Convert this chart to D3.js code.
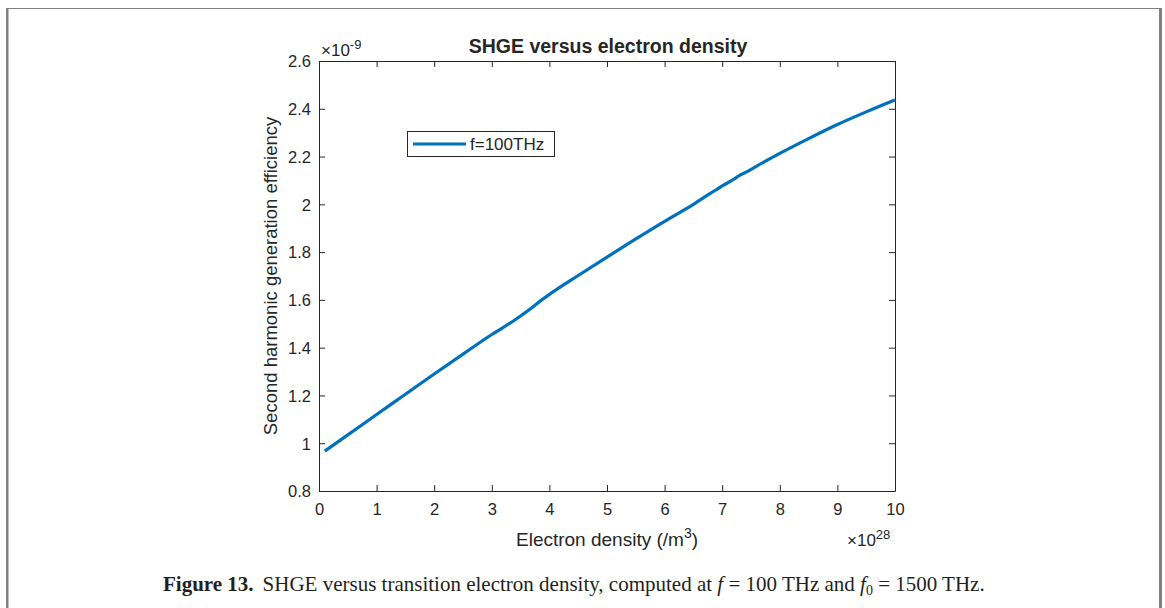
<!DOCTYPE html>
<html>
<head>
<meta charset="utf-8">
<script src="https://cdn.jsdelivr.net/npm/d3@7"></script>
<style>
  body { margin: 0; background: #fff; }
  svg text { font-family: "Liberation Sans", Arial, sans-serif; fill: #262626; }
  .caption text { font-family: "Liberation Serif", "Times New Roman", serif; fill: #231f20; }
</style>
</head>
<body>
<script>
var width = 1165;
var height = 608;

// electron density (x 1e28 /m^3) and SHG efficiency (x 1e-9)
var density = [0.1, 0.5, 1, 1.5, 2, 2.5, 3, 3.4, 3.7, 3.85, 4, 4.5, 5, 5.5, 6, 6.5, 6.8, 6.9, 7, 7.2, 7.3, 7.45, 7.6, 8, 8.5, 9, 9.5, 10];
var efficiency = [0.967, 1.035, 1.12, 1.205, 1.29, 1.373, 1.455, 1.516, 1.568, 1.597, 1.623, 1.702, 1.779, 1.855, 1.929, 2.0, 2.047, 2.062, 2.077, 2.105, 2.121, 2.139, 2.16, 2.213, 2.275, 2.334, 2.387, 2.437];

var xTicks = [0, 1, 2, 3, 4, 5, 6, 7, 8, 9, 10];
var yTicks = [0.8, 1, 1.2, 1.4, 1.6, 1.8, 2, 2.2, 2.4, 2.6];

var titleText = "SHGE versus electron density";
var legendLabel = "f=100THz";

var plot = { left: 319, top: 61, right: 895, bottom: 491 };

var svg = d3.select("body").append("svg")
    .attr("width", width)
    .attr("height", height);

// outer figure frame
svg.append("path")
    .attr("d", "M7,612 V8.5 H1160.5 V612")
    .attr("fill", "none")
    .attr("stroke", "#808080")
    .attr("stroke-width", 1);
svg.append("rect").attr("x", 6).attr("y", 8).attr("width", 2.5).attr("height", 604).attr("fill", "#808080");
svg.append("rect").attr("x", 1159).attr("y", 8).attr("width", 3).attr("height", 604).attr("fill", "#808080");

var x = d3.scaleLinear().domain([0, 10]).range([plot.left, plot.right]);
var y = d3.scaleLinear().domain([0.8, 2.6]).range([plot.bottom, plot.top]);

var tickLen = 6;
var fmt = function (d) { return d3.format("~g")(d); };

// bottom and left axes with inward ticks
var gx = svg.append("g")
    .attr("transform", "translate(0," + plot.bottom + ")")
    .call(d3.axisBottom(x).tickValues(xTicks).tickFormat(fmt).tickSizeInner(-tickLen).tickSizeOuter(0).tickPadding(12));
var gy = svg.append("g")
    .attr("transform", "translate(" + plot.left + ",0)")
    .call(d3.axisLeft(y).tickValues(yTicks).tickFormat(fmt).tickSizeInner(-tickLen).tickSizeOuter(0).tickPadding(8));

// top and right box axes
var gxt = svg.append("g")
    .attr("transform", "translate(0," + plot.top + ")")
    .call(d3.axisTop(x).tickValues(xTicks).tickFormat("").tickSizeInner(-tickLen).tickSizeOuter(0));
var gyr = svg.append("g")
    .attr("transform", "translate(" + plot.right + ",0)")
    .call(d3.axisRight(y).tickValues(yTicks).tickFormat("").tickSizeInner(-tickLen).tickSizeOuter(0));

[gx, gy, gxt, gyr].forEach(function (g) {
    g.selectAll(".domain").attr("stroke", "#262626").attr("stroke-width", 1);
    g.selectAll(".tick line").attr("stroke", "#262626").attr("stroke-width", 1);
    g.selectAll(".tick text").style("font-size", "16.5px").attr("fill", "#262626")
        .style("font-family", "'Liberation Sans', Arial, sans-serif");
});
gx.selectAll(".tick text").attr("dy", "0.71em");
gy.selectAll(".tick text").attr("dy", "0.35em");

// data line
var line = d3.line()
    .x(function (d, i) { return x(density[i]); })
    .y(function (d, i) { return y(efficiency[i]); })
    .curve(d3.curveMonotoneX);

svg.append("path")
    .datum(efficiency)
    .attr("d", line)
    .attr("fill", "none")
    .attr("stroke", "#0072BD")
    .attr("stroke-width", 3.2)
    .attr("stroke-linejoin", "round");

// exponent labels
var expY = svg.append("text").attr("x", 321).attr("y", 56).style("font-size", "17px");
expY.append("tspan").text("\u00d710");
expY.append("tspan").attr("dy", -7).style("font-size", "13px").text("-9");

var expX = svg.append("text").attr("x", 847).attr("y", 546).style("font-size", "17px");
expX.append("tspan").text("\u00d710");
expX.append("tspan").attr("dy", -7).style("font-size", "13px").text("28");

// title
svg.append("text")
    .attr("x", (plot.left + plot.right) / 2 + 1)
    .attr("y", 53)
    .attr("text-anchor", "middle")
    .style("font-size", "19.5px")
    .style("font-weight", "bold")
    .attr("fill", "#000")
    .text(titleText);

// axis labels
var xl = svg.append("text")
    .attr("x", (plot.left + plot.right) / 2)
    .attr("y", 546)
    .attr("text-anchor", "middle")
    .style("font-size", "19px");
xl.append("tspan").text("Electron density (/m");
xl.append("tspan").attr("dy", -8).style("font-size", "14px").text("3");
xl.append("tspan").attr("dy", 8).text(")");

svg.append("text")
    .attr("transform", "translate(277," + ((plot.top + plot.bottom) / 2) + ") rotate(-90)")
    .attr("text-anchor", "middle")
    .style("font-size", "18.5px")
    .text("Second harmonic generation efficiency");

// legend
var legend = svg.append("g");
legend.append("rect")
    .attr("x", 407.5).attr("y", 131.5)
    .attr("width", 147).attr("height", 25)
    .attr("fill", "#fff")
    .attr("stroke", "#262626")
    .attr("stroke-width", 1);
legend.append("line")
    .attr("x1", 413).attr("x2", 466)
    .attr("y1", 144).attr("y2", 144)
    .attr("stroke", "#0072BD")
    .attr("stroke-width", 3.2);
legend.append("text")
    .attr("x", 470).attr("y", 150)
    .style("font-size", "17px")
    .text(legendLabel);

// figure caption
var cap = svg.append("g").attr("class", "caption")
    .append("text")
    .attr("x", 163)
    .attr("y", 591)
    .style("font-size", "21px");
cap.append("tspan").style("font-weight", "bold").text("Figure 13.");
cap.append("tspan").attr("dx", 9).text("SHGE versus transition electron density, computed at ");
cap.append("tspan").style("font-style", "italic").text("f");
cap.append("tspan").text(" = 100 THz and ");
cap.append("tspan").style("font-style", "italic").text("f");
cap.append("tspan").attr("dy", 4).style("font-size", "14px").text("0");
cap.append("tspan").attr("dy", -4).text(" = 1500 THz.");
</script>
</body>
</html>
